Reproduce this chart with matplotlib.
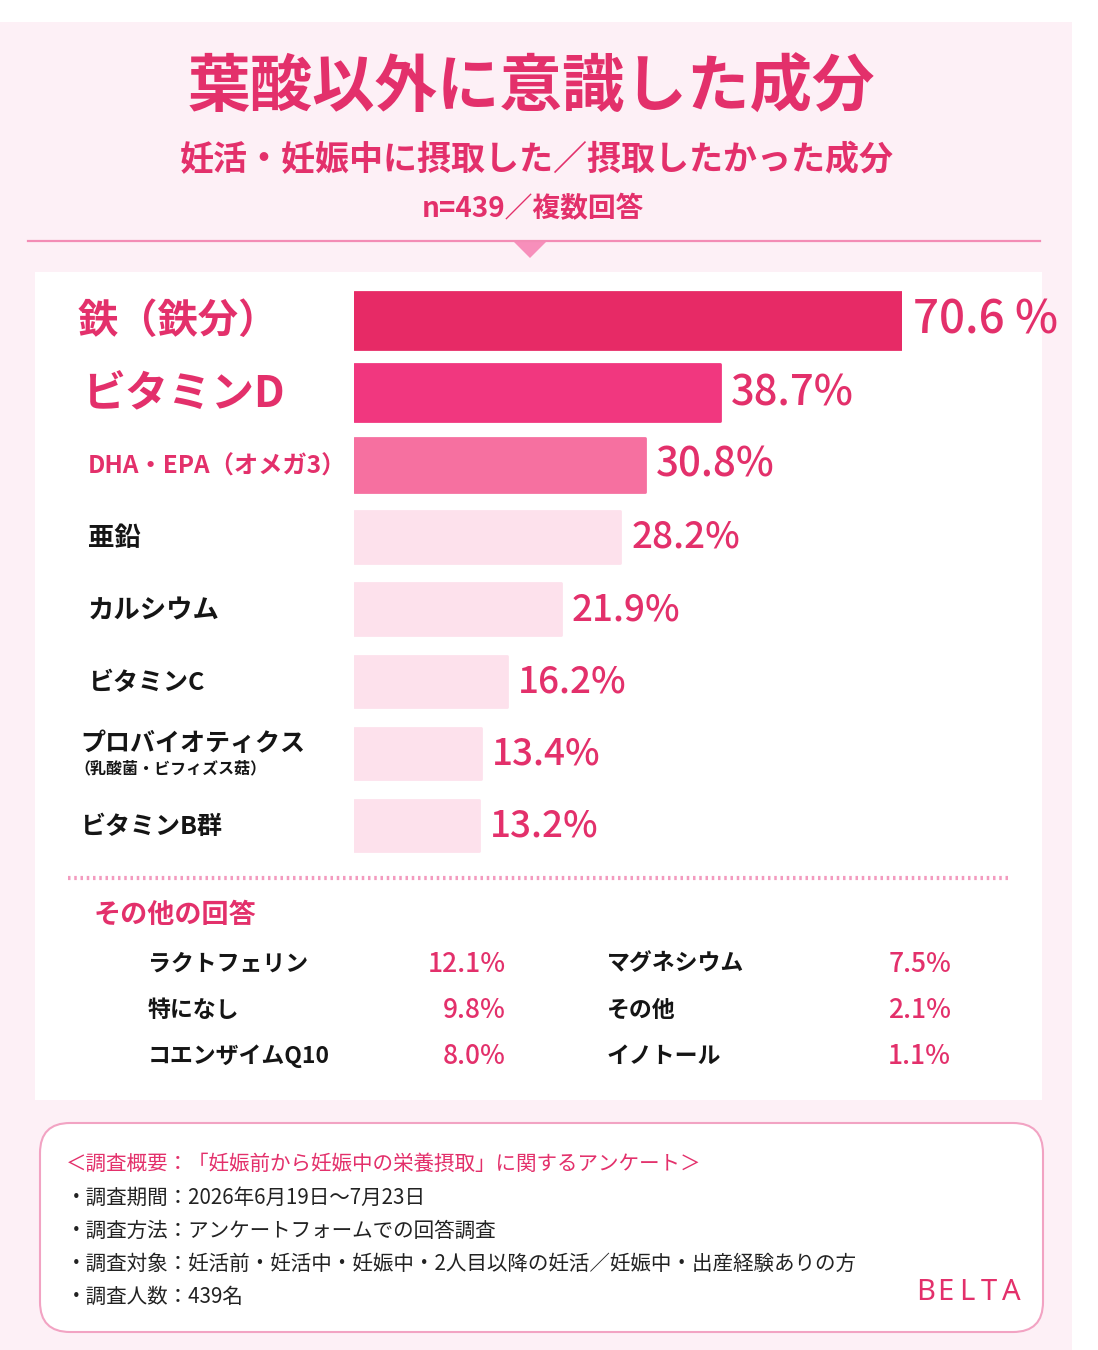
import matplotlib
matplotlib.use("Agg")
import matplotlib.pyplot as plt
import matplotlib.transforms as mtransforms
from matplotlib.patches import Rectangle, FancyBboxPatch, Polygon

plt.rcParams['font.family'] = ['Noto Sans CJK JP', 'DejaVu Sans']

# data
categories = ["鉄（鉄分）", "ビタミンD", "DHA・EPA（オメガ3）", "亜鉛", "カルシウム",
              "ビタミンC", "プロバイオティクス", "ビタミンB群"]
category_notes = ["", "", "", "", "", "", "（乳酸菌・ビフィズス菇）", ""]
values = [70.6, 38.7, 30.8, 28.2, 21.9, 16.2, 13.4, 13.2]

other_left_names = ["ラクトフェリン", "特になし", "コエンザイムQ10"]
other_left_values = [12.1, 9.8, 8.0]
other_right_names = ["マグネシウム", "その他", "イノトール"]
other_right_values = [7.5, 2.1, 1.1]

title = "葉酸以外に意識した成分"
subtitle = "妊活・妊娠中に摂取した／摂取したかった成分"
sample_note = "n=439／複数回答"
footer_head = "＜調査概要：「妊娠前から妊娠中の栄養摂取」に関するアンケート＞"
footer_lines = ["・調査期間：2026年6月19日～7月23日",
                "・調査方法：アンケートフォームでの回答調査",
                "・調査対象：妊活前・妊活中・妊娠中・2人目以降の妊活／妊娠中・出産経験ありの方",
                "・調査人数：439名"]
brand = "BELTA"

# styles
PINK = '#e3306b'
BG = '#fdf0f6'
bar_colors = ['#e72a66', '#f1377f', '#f670a0'] + ['#fde1ec'] * 5
bar_heights = [0.80, 0.79, 0.75, 0.72, 0.72, 0.71, 0.71, 0.71]
label_colors = [PINK, PINK, PINK] + ['#151515'] * 5
label_sizes = [29, 31, 17.5, 19, 19, 18, 18, 18]
label_x = [78, 82, 88, 88, 88, 88, 80, 80]
value_sizes = [33, 30, 29, 26.5, 26.5, 26.5, 26.5, 26.5]

W, H = 1098, 1350
fig = plt.figure(figsize=(W / 100, H / 100), dpi=100, facecolor='white')

bg = fig.add_axes([0, 0, 1, 1])
bg.set_xlim(0, W)
bg.set_ylim(H, 0)
bg.axis('off')

# page background and panels
bg.add_patch(Rectangle((0, 22), 1072, H - 22, color=BG, lw=0))
bg.add_patch(Rectangle((35, 272), 1007, 828, color='white', lw=0))
bg.plot([28, 1040], [241, 241], color='#f38cb5', lw=1.6)
bg.add_patch(Polygon([[513, 241], [547, 241], [530, 258]], closed=True,
                     color='#f78fbb', lw=0))

bg.text(531, 88, title, ha='center', va='center', fontsize=45,
        fontweight='bold', color=PINK)
bg.text(537, 160, subtitle, ha='center', va='center', fontsize=24.5,
        fontweight='bold', color=PINK)
bg.text(533, 209, sample_note, ha='center', va='center', fontsize=20,
        fontweight='bold', color=PINK)

# bar chart
top_px, bot_px = 284.3, 861.9
ax = fig.add_axes([354 / W, 1 - bot_px / H, 548 / W, (bot_px - top_px) / H])
ax.set_xlim(0, 58)
ax.set_ylim(len(values) - 0.5, -0.5)
ax.axis('off')

for i, v in enumerate(values):
    ax.barh(i, v, height=bar_heights[i], color=bar_colors[i],
            edgecolor=bar_colors[i], lw=2, joinstyle='round')

xmax = ax.get_xlim()[1]
for i, v in enumerate(values):
    txt = f"{v:.1f} %" if i == 0 else f"{v:.1f}%"
    ax.annotate(txt, xy=(min(v, xmax), i), xytext=(8, 0),
                textcoords='offset points', ha='left', va='center',
                fontsize=value_sizes[i], color=PINK, fontweight='medium',
                annotation_clip=False)

blend = mtransforms.blended_transform_factory(bg.transData, ax.transData)
for i, name in enumerate(categories):
    dy = 7 if category_notes[i] else -1
    ax.annotate(name, xy=(label_x[i], i), xycoords=blend, xytext=(0, dy),
                textcoords='offset points', ha='left', va='center',
                fontsize=label_sizes[i], fontweight='bold',
                color=label_colors[i], annotation_clip=False)
    if category_notes[i]:
        ax.annotate(category_notes[i], xy=(label_x[i], i), xycoords=blend,
                    xytext=(-4, -11), textcoords='offset points', ha='left',
                    va='center', fontsize=11.5, fontweight='bold',
                    color='#151515', annotation_clip=False)

# other answers
bg.plot([68, 1011], [878, 878], color='#f39bbf', lw=3, ls=(0, (0.6, 0.9)))
bg.text(94, 915, "その他の回答", ha='left', va='center', fontsize=19.5,
        fontweight='bold', color=PINK)

row_y = [964, 1010, 1056]
for y, n, v in zip(row_y, other_left_names, other_left_values):
    bg.text(148, y, n, ha='left', va='center', fontsize=16.5,
            fontweight='bold', color='#151515')
    bg.text(506, y, f"{v:.1f}%", ha='right', va='center', fontsize=19,
            color=PINK, fontweight='medium')
for y, n, v in zip(row_y, other_right_names, other_right_values):
    bg.text(607, y, n, ha='left', va='center', fontsize=16.5,
            fontweight='bold', color='#151515')
    bg.text(951, y, f"{v:.1f}%", ha='right', va='center', fontsize=19,
            color=PINK, fontweight='medium')

# footer
bg.add_patch(FancyBboxPatch((40, 1123), 1003, 209,
                            boxstyle="round,pad=0,rounding_size=30",
                            facecolor='white', edgecolor='#f2a3c3', lw=1.5))
bg.text(66, 1164, footer_head, ha='left', va='center', fontsize=14.8,
        color=PINK)
for k, line in enumerate(footer_lines):
    bg.text(66, 1198 + k * 33, line, ha='left', va='center', fontsize=14.8,
            color='#222222')
for k, ch in enumerate(brand):
    bg.text(916 + k * 21.5, 1293, ch, ha='left', va='center', fontsize=21,
            color=PINK, family='Noto Sans', fontweight='light')

fig.savefig("out.png", dpi=100, facecolor=fig.get_facecolor())
